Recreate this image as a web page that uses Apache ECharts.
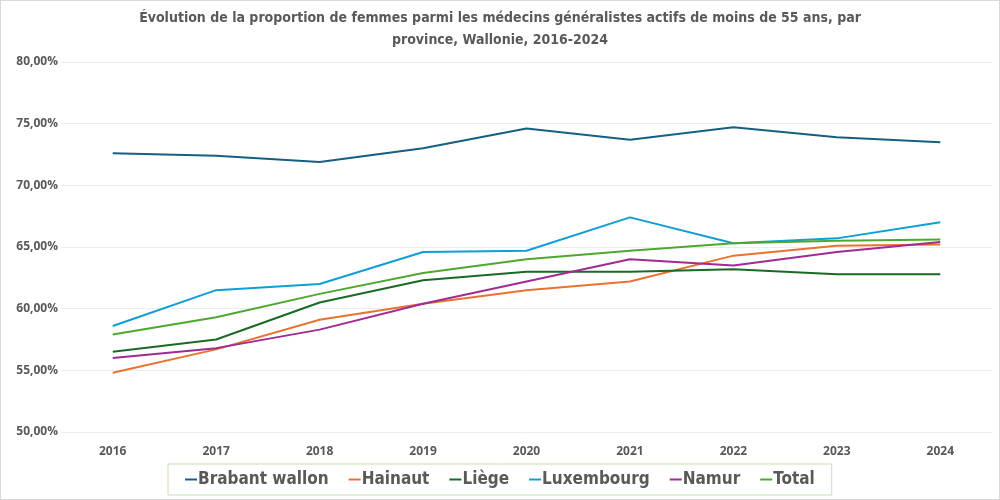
<!DOCTYPE html>
<html><head><meta charset="utf-8">
<script src="https://cdn.jsdelivr.net/npm/echarts@6/dist/echarts.min.js"></script>
<style>html,body{margin:0;padding:0;background:#fff}#c{width:1000px;height:500px;box-sizing:border-box;border:1px solid #d9d9d9}</style>
</head><body><div id="c"></div>
<script>
const years = ['2016','2017','2018','2019','2020','2021','2022','2023','2024'];
const brabantWallon = [72.6, 72.4, 71.9, 73.0, 74.6, 73.7, 74.7, 73.9, 73.5];
const hainaut       = [54.8, 56.7, 59.1, 60.4, 61.5, 62.2, 64.3, 65.1, 65.2];
const liege         = [56.5, 57.5, 60.5, 62.3, 63.0, 63.0, 63.2, 62.8, 62.8];
const luxembourg    = [58.6, 61.5, 62.0, 64.6, 64.7, 67.4, 65.3, 65.7, 67.0];
const namur         = [56.0, 56.8, 58.3, 60.4, 62.2, 64.0, 63.5, 64.6, 65.4];
const total         = [57.9, 59.3, 61.2, 62.9, 64.0, 64.7, 65.3, 65.5, 65.6];
const seriesNames = ['Brabant wallon','Hainaut','Liège','Luxembourg','Namur','Total'];
const seriesData = [brabantWallon, hainaut, liege, luxembourg, namur, total];
const colors = ['#156082','#E97132','#196B24','#0F9ED5','#A02B93','#4EA72E'];

const chart = echarts.init(document.getElementById('c'));
chart.setOption({
  animation: false,
  color: colors,
  title: {
    text: 'Évolution de la proportion de femmes parmi les médecins généralistes actifs de moins de 55 ans, par\nprovince, Wallonie, 2016-2024',
    left: 'center', top: 1,
    textStyle: {fontFamily: 'DejaVu Sans Condensed', fontWeight: 'bold', fontSize: 14, color: '#595959', lineHeight: 22}
  },
  grid: {left: 60, right: 7, top: 61, bottom: 67, containLabel: false},
  xAxis: {
    type: 'category', data: years, boundaryGap: true,
    axisLine: {show: false}, axisTick: {show: false},
    axisLabel: {fontFamily: 'Open Sans', fontWeight: 'bold', fontSize: 12, color: '#595959', margin: 14}
  },
  yAxis: {
    type: 'value', min: 50, max: 80, interval: 5,
    axisLine: {show: false}, axisTick: {show: false},
    splitLine: {lineStyle: {color: '#ededed', width: 1}},
    axisLabel: {fontFamily: 'Open Sans', fontWeight: 'bold', fontSize: 12, color: '#595959', margin: 3,
      formatter: v => v.toFixed(2).replace('.', ',') + '%'}
  },
  legend: {
    left: 167, top: 463,
    padding: [7, 17, 7, 17],
    borderColor: '#c6dfb5', borderWidth: 1,
    itemWidth: 12, itemHeight: 2, itemGap: 20,
    icon: 'rect',
    textStyle: {fontFamily: 'DejaVu Sans Condensed', fontWeight: 'bold', fontSize: 17, color: '#595959', padding: [0,0,0,-4]},
    data: seriesNames
  },
  series: seriesNames.map((n, i) => ({
    name: n, type: 'line', data: seriesData[i], symbol: 'none',
    lineStyle: {width: 2, color: colors[i]}
  }))
});
</script></body></html>
